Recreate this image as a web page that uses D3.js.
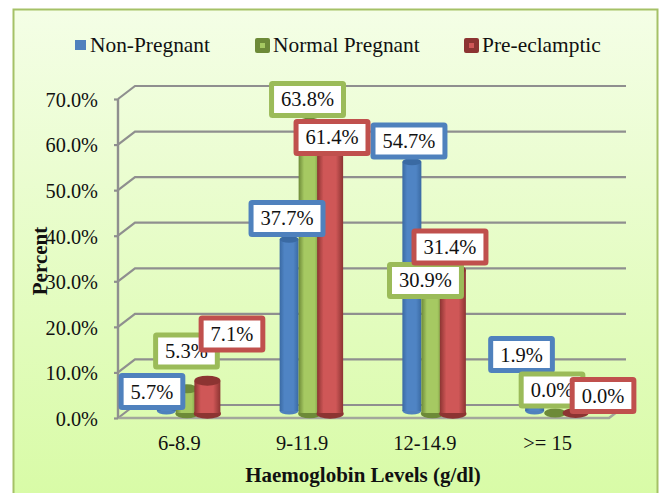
<!DOCTYPE html>
<html>
<head>
<meta charset="utf-8">
<script src="https://cdn.jsdelivr.net/npm/d3@7"></script>
<style>
  body { margin: 0; background: #fff; }
  text { font-family: "Liberation Serif", serif; fill: #111; }
  .domain { display: none; }
</style>
</head>
<body>
<svg id="chart" width="662" height="493"></svg>
<script>
const categories = ["6-8.9", "9-11.9", "12-14.9", ">= 15"]
const seriesNames = ["Non-Pregnant", "Normal Pregnant", "Pre-eclamptic"]
const nonPregnant = [5.7, 37.7, 54.7, 1.9]
const normalPregnant = [5.3, 63.8, 30.9, 0.0]
const preEclamptic = [7.1, 61.4, 31.4, 0.0]
const yTicks = [0, 10, 20, 30, 40, 50, 60, 70]

// look of each series
const base = ["#4f81bd", "#9bbb59", "#c0504d"]
const dark = ["#3a6aa3", "#6d8a38", "#8c3432"]
const mid = ["#4f84c4", "#a6c962", "#cf5757"]
const barW = [19, 22, 26]
const ellRy = [3.5, 4.5, 5]
const baseUp = [7, 5, 5]
const legendX = [75, 255, 464]
// hand placed data labels, moved from the top of each bar
const labelDx = [[-14.4, -2.1, -2.9, -13.1], [-0.4, -2.1, -6.9, -3.1], [24.6, 1.9, -2.9, 27.4]]
const labelDy = [[6.5, -20.7, -20.7, -47.8], [-37.8, -22.8, 8.3, -23], [-46.6, 4.3, -22.9, -17.5]]

const svg = d3.select("#chart")
const defs = svg.append("defs")

const bg = defs.append("linearGradient").attr("id", "bg").attr("x2", 0).attr("y2", 1)
bg.append("stop").attr("offset", "0%").attr("stop-color", "#f4fee6")
bg.append("stop").attr("offset", "100%").attr("stop-color", "#d8fba6")

base.forEach((c, i) => {
  const g = defs.append("linearGradient").attr("id", `cyl${i}`)
  g.append("stop").attr("offset", "0%").attr("stop-color", dark[i])
  g.append("stop").attr("offset", "25%").attr("stop-color", mid[i])
  g.append("stop").attr("offset", "72%").attr("stop-color", mid[i])
  g.append("stop").attr("offset", "100%").attr("stop-color", dark[i])
})

svg.append("rect")
  .attr("x", 13.5).attr("y", 9.5).attr("width", 644).attr("height", 490)
  .attr("fill", "url(#bg)").attr("stroke", "#a5c167").attr("stroke-width", 2)

const x = d3.scaleBand().domain(categories).range([118, 609])
const y = d3.scaleLinear().domain([0, 70]).range([418, 99])
const xs = d3.scalePoint().domain(seriesNames).range([-13, 28])
const depthX = 17
const depthY = -13
const gridColor = "#8f8f8f"

// walls
const grid = svg.append("g").attr("fill", "none").attr("stroke", gridColor).attr("stroke-width", 2.2)
yTicks.forEach(t => {
  const path = d3.path()
  path.moveTo(118, y(t))
  path.lineTo(118 + depthX, y(t) + depthY)
  path.lineTo(609 + depthX, y(t) + depthY)
  grid.append("path").attr("d", path.toString())
})
// floor
grid.append("path")
  .attr("d", `M118,${y(0)}L609,${y(0)}L${609 + depthX},${y(0) + depthY}`)
  .attr("stroke", "#a3a79c").attr("stroke-width", 2.6)

const yAxis = svg.append("g")
  .attr("transform", "translate(118,0)")
  .call(d3.axisLeft(y).tickValues(yTicks).tickFormat(d => d3.format(".1f")(d) + "%").tickSize(4).tickPadding(16))
yAxis.selectAll("line").attr("stroke", gridColor).attr("stroke-width", 2.2)
yAxis.selectAll("text").attr("font-size", 20.3).attr("dy", "0.36em")
svg.append("line")
  .attr("x1", 118).attr("x2", 118).attr("y1", y(70)).attr("y2", y(0))
  .attr("stroke", gridColor).attr("stroke-width", 2.4)

const xAxis = svg.append("g")
  .attr("transform", `translate(0,${y(0)})`)
  .call(d3.axisBottom(x).tickSize(0).tickPadding(17))
xAxis.selectAll("text").attr("font-size", 20.5)

// bars
const allSeries = [nonPregnant, normalPregnant, preEclamptic]
const barCx = (s, j) => x(categories[j]) + x.bandwidth() / 2 + xs(seriesNames[s])
const barTop = (s, j) => y(allSeries[s][j]) - baseUp[s]

allSeries.forEach((vals, s) => {
  const g = svg.append("g")
  vals.forEach((v, j) => {
    const cx = barCx(s, j)
    const w = barW[s]
    const yTop = barTop(s, j)
    const yBase = y(0) - baseUp[s]
    if (v > 0) {
      // darker rim at the foot of the cylinder
      g.append("ellipse")
        .attr("cx", cx).attr("cy", yBase + (s === 0 ? 0 : 0.8))
        .attr("rx", w / 2 + (s === 0 ? 0 : 0.6)).attr("ry", ellRy[s])
        .attr("fill", s === 0 ? base[s] : dark[s])
      g.append("rect")
        .attr("x", cx - w / 2).attr("y", yTop)
        .attr("width", w).attr("height", yBase - yTop)
        .attr("fill", `url(#cyl${s})`)
    }
    g.append("ellipse")
      .attr("cx", cx).attr("cy", yTop)
      .attr("rx", w / 2).attr("ry", ellRy[s])
      .attr("fill", dark[s])
  })
})

// data labels
allSeries.forEach((vals, s) => {
  const g = svg.append("g")
  vals.forEach((v, j) => {
    const cx = barCx(s, j) + labelDx[s][j]
    const cy = barTop(s, j) + labelDy[s][j]
    const lab = g.append("g")
    const rect = lab.append("rect")
    const txt = lab.append("text")
      .attr("x", cx).attr("y", cy + 7)
      .attr("text-anchor", "middle").attr("font-size", 20.5)
      .text(d3.format(".1f")(v) + "%")
    const w = txt.node().getComputedTextLength() + 19
    rect.attr("x", cx - w / 2).attr("y", cy - 16)
      .attr("width", w).attr("height", 32).attr("rx", 1)
      .attr("fill", "#fff").attr("stroke", base[s]).attr("stroke-width", 5)
  })
})

// legend
seriesNames.forEach((name, s) => {
  const lx = legendX[s]
  if (s === 0) {
    svg.append("rect").attr("x", lx).attr("y", 40).attr("width", 11).attr("height", 10).attr("fill", base[s])
  } else {
    svg.append("rect").attr("x", lx).attr("y", 38).attr("width", 15).attr("height", 15).attr("rx", 2).attr("fill", dark[s])
    svg.append("rect").attr("x", lx + 5).attr("y", 43).attr("width", 5).attr("height", 5).attr("fill", mid[s])
  }
  svg.append("text")
    .attr("x", lx + (s === 0 ? 15 : 18)).attr("y", 52)
    .attr("font-size", 21.4)
    .text(name)
})

svg.append("text")
  .attr("x", 363).attr("y", 482)
  .attr("text-anchor", "middle").attr("font-size", 21).attr("font-weight", "bold")
  .text("Haemoglobin Levels (g/dl)")

svg.append("text")
  .attr("transform", "translate(47,261) rotate(-90)")
  .attr("text-anchor", "middle").attr("font-size", 21).attr("font-weight", "bold")
  .text("Percent")
</script>
</body>
</html>
